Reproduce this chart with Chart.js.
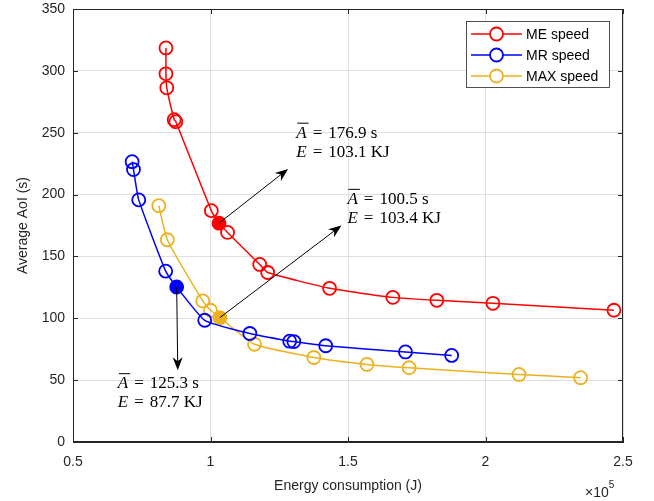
<!DOCTYPE html>
<html>
<head>
<meta charset="utf-8">
<script src="https://cdn.jsdelivr.net/npm/chart.js@4.4.1/dist/chart.umd.min.js"></script>
<style>
    html, body { margin: 0; padding: 0; background: #fff; }
</style>
</head>
<body>
<canvas id="chart" width="654" height="501"></canvas>
<script>
// Energy in units of 1e5 J, average AoI in seconds
const meX  = [0.838, 0.838, 0.841, 0.868, 0.874, 1.003, 1.031, 1.062, 1.179, 1.208, 1.433, 1.663, 1.823, 2.027, 2.467];
const meY  = [318.5, 297.6, 286.3, 260.5, 258.9, 187.0, 176.9, 169.4, 143.5, 137.0, 124.2, 116.9, 114.5, 112.1, 106.5];
const mrX  = [0.715, 0.720, 0.739, 0.837, 0.877, 0.979, 1.143, 1.288, 1.303, 1.419, 1.709, 1.877];
const mrY  = [226.6, 220.2, 195.7, 138.1, 125.3, 98.4, 87.7, 81.5, 81.2, 77.8, 72.8, 70.0];
const maxX = [0.812, 0.843, 0.972, 1.000, 1.034, 1.160, 1.376, 1.569, 1.722, 2.122, 2.346];
const maxY = [191.0, 163.5, 114.0, 106.5, 100.5, 79.0, 68.3, 62.7, 60.0, 54.6, 52.0];

const seriesNames  = ['ME speed', 'MR speed', 'MAX speed'];
const seriesColors = ['#ff0000', '#0000ff', '#edb120'];
const highlightIdx = [6, 4, 4];   // filled marker in each series

const xTicks = [0.5, 1, 1.5, 2, 2.5];
const xTickLabels = ['0.5', '1', '1.5', '2', '2.5'];
const yTicks = [0, 50, 100, 150, 200, 250, 300, 350];

// callouts: arrow from highlighted point to tip, text anchored in data units
const callouts = [
    { series: 0, tip: [1.282, 220.7], text: [1.312, 246.0], a: '176.9 s', e: '103.1 KJ' },
    { series: 2, tip: [1.476, 175.0], text: [1.498, 192.5], a: '100.5 s', e: '103.4 KJ' },
    { series: 1, tip: [0.881, 58.0],  text: [0.663, 43.5],  a: '125.3 s', e: '87.7 KJ' },
];

const AXIS_COLOR = '#262626';
const GRID_COLOR = '#dfdfdf';
const SANS = '"Liberation Sans", Arial, sans-serif';
const SERIF = '"Liberation Serif", "DejaVu Serif", serif';

const toPoints = (xs, ys) => xs.map((x, i) => ({ x, y: ys[i] }));
const allX = [meX, mrX, maxX];
const allY = [meY, mrY, maxY];

const datasets = seriesNames.map((name, s) => ({
    label: name,
    data: toPoints(allX[s], allY[s]),
    showLine: true,
    borderColor: seriesColors[s],
    borderWidth: 1.5,
    tension: 0.15,
    pointStyle: 'circle',
    pointRadius: 6.5,
    pointBorderWidth: 1.8,
    pointBorderColor: seriesColors[s],
    pointBackgroundColor: allX[s].map((_, i) => i === highlightIdx[s] ? seriesColors[s] : 'rgba(0,0,0,0)'),
}));

function drawArrow(ctx, x0, y0, x1, y1) {
    const ang = Math.atan2(y1 - y0, x1 - x0);
    const len = 13, half = 5, notch = 9;
    ctx.save();
    ctx.strokeStyle = '#000';
    ctx.fillStyle = '#000';
    ctx.lineWidth = 1;
    ctx.beginPath();
    ctx.moveTo(x0, y0);
    ctx.lineTo(x1 - Math.cos(ang) * notch, y1 - Math.sin(ang) * notch);
    ctx.stroke();
    ctx.translate(x1, y1);
    ctx.rotate(ang);
    ctx.beginPath();
    ctx.moveTo(0, 0);
    ctx.lineTo(-len, -half);
    ctx.lineTo(-notch, 0);
    ctx.lineTo(-len, half);
    ctx.closePath();
    ctx.fill();
    ctx.restore();
}

function drawMath(ctx, x, y, sym, value, overline) {
    ctx.save();
    ctx.fillStyle = '#000';
    ctx.textBaseline = 'alphabetic';
    ctx.textAlign = 'left';
    ctx.font = 'italic 17px ' + SERIF;
    ctx.fillText(sym, x, y);
    const w = ctx.measureText(sym).width;
    if (overline) {
        ctx.fillRect(x + 1, y - 15, w + 1, 1);
    }
    ctx.font = '17px ' + SERIF;
    let cx = x + w + 6;
    ctx.fillText('=', cx, y);
    cx += ctx.measureText('=').width + 6;
    ctx.fillText(value, cx, y);
    ctx.restore();
}

const decorPlugin = {
    id: 'decor',
    afterDraw(chart) {
        const { ctx, chartArea: a, scales } = chart;
        const xs = scales.x, ys = scales.y;
        ctx.save();

        // box and inward ticks
        ctx.strokeStyle = AXIS_COLOR;
        ctx.lineWidth = 1;
        ctx.strokeRect(a.left + 0.5, a.top + 0.5, a.right - a.left - 1, a.bottom - a.top - 1);
        ctx.beginPath();
        xTicks.forEach(v => {
            const px = Math.round(xs.getPixelForValue(v)) + 0.5;
            ctx.moveTo(px, a.bottom); ctx.lineTo(px, a.bottom - 5);
            ctx.moveTo(px, a.top);    ctx.lineTo(px, a.top + 5);
        });
        yTicks.forEach(v => {
            const py = Math.round(ys.getPixelForValue(v)) + 0.5;
            ctx.moveTo(a.left, py);  ctx.lineTo(a.left + 5, py);
            ctx.moveTo(a.right, py); ctx.lineTo(a.right - 5, py);
        });
        ctx.stroke();

        // axis titles
        ctx.fillStyle = AXIS_COLOR;
        ctx.font = '14px ' + SANS;
        ctx.textAlign = 'center';
        ctx.textBaseline = 'middle';
        ctx.fillText('Energy consumption (J)', (a.left + a.right) / 2, 486);
        ctx.save();
        ctx.translate(23, (a.top + a.bottom) / 2);
        ctx.rotate(-Math.PI / 2);
        ctx.fillText('Average AoI (s)', 0, 0);
        ctx.restore();

        // exponent label
        ctx.textAlign = 'left';
        ctx.textBaseline = 'alphabetic';
        ctx.font = '14px ' + SANS;
        ctx.fillText('\u00d7', 585, 497);
        let ex = 585 + ctx.measureText('\u00d7').width;
        ctx.fillText('10', ex, 497);
        ex += ctx.measureText('10').width;
        ctx.font = '10px ' + SANS;
        ctx.fillText('5', ex, 488);

        // callouts
        callouts.forEach(c => {
            const s = c.series, i = highlightIdx[s];
            const x0 = xs.getPixelForValue(allX[s][i]);
            const y0 = ys.getPixelForValue(allY[s][i]);
            drawArrow(ctx, x0, y0, xs.getPixelForValue(c.tip[0]), ys.getPixelForValue(c.tip[1]));
            const tx = xs.getPixelForValue(c.text[0]);
            const ty = ys.getPixelForValue(c.text[1]);
            drawMath(ctx, tx, ty, 'A', c.a, true);
            drawMath(ctx, tx, ty + 19, 'E', c.e, false);
        });

        // legend
        const lx = 466.5, ly = 21.5, lw = 143, lh = 66;
        ctx.fillStyle = '#fff';
        ctx.fillRect(lx, ly, lw, lh);
        ctx.strokeStyle = AXIS_COLOR;
        ctx.lineWidth = 0.8;
        ctx.strokeRect(lx, ly, lw, lh);
        seriesNames.forEach((name, s) => {
            const ry = 34 + s * 21;
            ctx.strokeStyle = seriesColors[s];
            ctx.lineWidth = 1.5;
            ctx.beginPath();
            ctx.moveTo(471, ry); ctx.lineTo(522, ry);
            ctx.stroke();
            ctx.lineWidth = 1.8;
            ctx.beginPath();
            ctx.arc(496.5, ry, 6.5, 0, Math.PI * 2);
            ctx.fillStyle = '#fff';
            ctx.fill();
            ctx.stroke();
            ctx.fillStyle = '#000';
            ctx.font = '14px ' + SANS;
            ctx.textBaseline = 'middle';
            ctx.fillText(name, 526, ry + 1);
        });
        ctx.restore();
    },
};

new Chart(document.getElementById('chart'), {
    type: 'scatter',
    data: { datasets },
    options: {
        responsive: false,
        animation: false,
        layout: { padding: { top: 9, right: 31, left: 0, bottom: 0 } },
        plugins: {
            legend: { display: false },
            tooltip: { enabled: false },
        },
        scales: {
            x: {
                type: 'linear',
                min: 0.5,
                max: 2.5,
                afterFit: scale => {
                    scale.height = 59;
                    scale.paddingLeft = 0;
                    scale.paddingRight = 0;
                },
                afterBuildTicks: scale => { scale.ticks = xTicks.map(v => ({ value: v })); },
                ticks: {
                    color: AXIS_COLOR,
                    padding: 12,
                    font: { family: SANS, size: 14 },
                    maxRotation: 0,
                    callback: (value, index) => xTickLabels[index],
                },
                grid: { color: GRID_COLOR, drawTicks: false },
                border: { color: AXIS_COLOR },
            },
            y: {
                type: 'linear',
                min: 0,
                max: 350,
                afterFit: scale => {
                    scale.width = 73;
                    scale.paddingTop = 0;
                    scale.paddingBottom = 0;
                },
                afterBuildTicks: scale => { scale.ticks = yTicks.map(v => ({ value: v })); },
                ticks: {
                    color: AXIS_COLOR,
                    padding: 8,
                    font: { family: SANS, size: 14 },
                },
                grid: { color: GRID_COLOR, drawTicks: false },
                border: { color: AXIS_COLOR },
            },
        },
    },
    plugins: [decorPlugin],
});
</script>
</body>
</html>
